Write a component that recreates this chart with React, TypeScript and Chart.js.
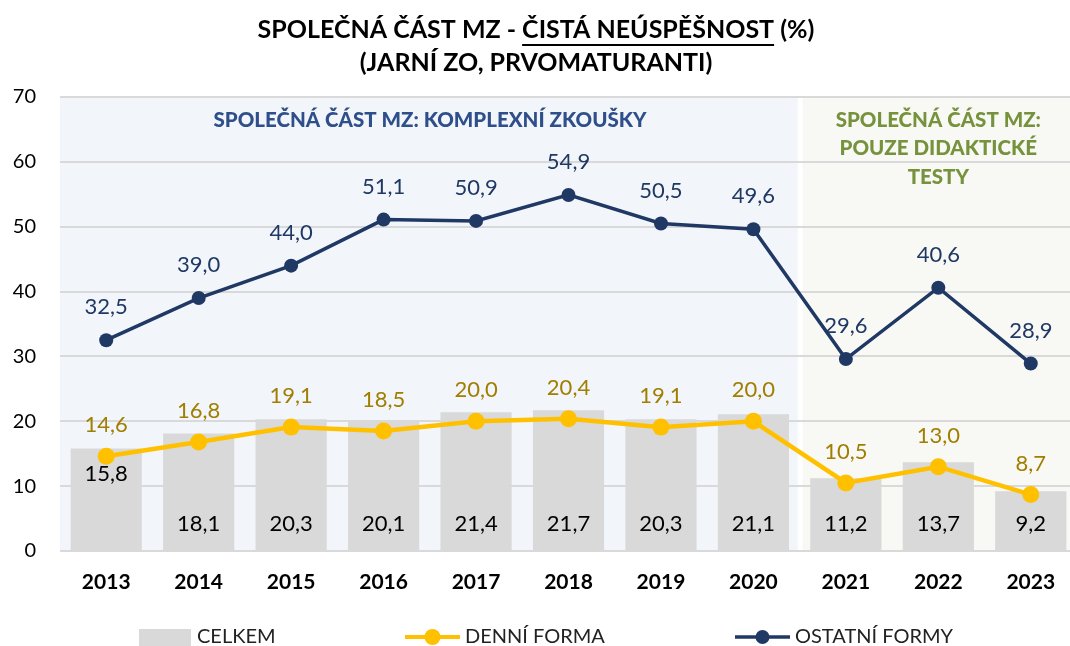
import React, { useEffect, useRef } from "react";
import { Chart, registerables } from "chart.js";

Chart.register(...registerables);

const years = ["2013", "2014", "2015", "2016", "2017", "2018", "2019", "2020", "2021", "2022", "2023"];
const celkem = [15.8, 18.1, 20.3, 20.1, 21.4, 21.7, 20.3, 21.1, 11.2, 13.7, 9.2];
const denniForma = [14.6, 16.8, 19.1, 18.5, 20.0, 20.4, 19.1, 20.0, 10.5, 13.0, 8.7];
const ostatniFormy = [32.5, 39.0, 44.0, 51.1, 50.9, 54.9, 50.5, 49.6, 29.6, 40.6, 28.9];
const yTicks = [0, 10, 20, 30, 40, 50, 60, 70];
const seriesNames = ["CELKEM", "DENNÍ FORMA", "OSTATNÍ FORMY"];
const titleParts = ["SPOLEČNÁ ČÁST MZ - ", "ČISTÁ NEÚSPĚŠNOST", " (%)"];
const subtitle = "(JARNÍ ZO, PRVOMATURANTI)";
const regionA = ["SPOLEČNÁ ČÁST MZ: KOMPLEXNÍ ZKOUŠKY"];
const regionB = ["SPOLEČNÁ ČÁST MZ:", "POUZE DIDAKTICKÉ", "TESTY"];
const regionSplitIndex = 8; // first year of second period (2021)

const FONT = "Lato, 'Open Sans', sans-serif";
const GRAY = "#D9D9D9";
const YELLOW = "#FFC000";
const NAVY = "#1F3864";
const BLUE_TXT = "#2F4F8A";
const GREEN_TXT = "#76923C";

const fmt = (v: number) => v.toFixed(1).replace(".", ",");

const customPlugin = {
  id: "custom",
  beforeDraw(chart: any) {
    const { ctx, chartArea, scales } = chart;
    const x = scales.x;
    const left = chartArea.left;
    const right = chartArea.right;
    const split = (x.getPixelForValue(regionSplitIndex - 1) + x.getPixelForValue(regionSplitIndex)) / 2;
    ctx.save();
    ctx.fillStyle = "#F2F5FA";
    ctx.fillRect(left, chartArea.top, split - 2 - left, chartArea.bottom - chartArea.top);
    ctx.fillStyle = "#F8F8F4";
    ctx.fillRect(split + 3, chartArea.top, right - split - 3, chartArea.bottom - chartArea.top);
    ctx.restore();
  },
  afterDraw(chart: any) {
    const { ctx, chartArea, scales } = chart;
    const x = scales.x;
    const y = scales.y;
    ctx.save();
    // Title
    ctx.fillStyle = "#000";
    ctx.textBaseline = "middle";
    ctx.font = `bold 25px ${FONT}`;
    const w = titleParts.map((t) => ctx.measureText(t).width);
    const total = w.reduce((a, b) => a + b, 0);
    let tx = 536 - total / 2;
    ctx.textAlign = "left";
    titleParts.forEach((t, i) => {
      ctx.fillText(t, tx, 30);
      if (i === 1) {
        ctx.fillRect(tx, 44, w[i], 2);
      }
      tx += w[i];
    });
    ctx.textAlign = "center";
    ctx.fillText(subtitle, 536, 63);

    // region labels
    const split = (x.getPixelForValue(regionSplitIndex - 1) + x.getPixelForValue(regionSplitIndex)) / 2;
    ctx.font = `900 20.5px ${FONT}`;
    ctx.fillStyle = BLUE_TXT;
    regionA.forEach((t, i) => ctx.fillText(t, 430, 120 + i * 28.5));
    ctx.fillStyle = GREEN_TXT;
    const cB = (split + chartArea.right) / 2;
    regionB.forEach((t, i) => ctx.fillText(t, cB, 120 + i * 28.5));

    // data labels
    ctx.font = `22px ${FONT}`;
    ctx.fillStyle = "#000";
    celkem.forEach((v, i) => {
      const px = x.getPixelForValue(i);
      const py = i === 0 ? y.getPixelForValue(v) + 25 : y.getPixelForValue(0) - 27;
      ctx.fillText(fmt(v), px, py);
    });
    ctx.fillStyle = "#A07E00";
    denniForma.forEach((v, i) => {
      ctx.fillText(fmt(v), x.getPixelForValue(i), y.getPixelForValue(v) - 31);
    });
    ctx.fillStyle = NAVY;
    ostatniFormy.forEach((v, i) => {
      ctx.fillText(fmt(v), x.getPixelForValue(i), y.getPixelForValue(v) - 33);
    });

    // legend
    const ly = 637;
    ctx.font = `20px ${FONT}`;
    ctx.textAlign = "left";
    ctx.fillStyle = GRAY;
    ctx.fillRect(139, 629, 52, 18);
    ctx.fillStyle = "#222";
    ctx.fillText(seriesNames[0], 197, ly);

    const drawLineKey = (x0: number, color: string, lw: number, r: number, label: string) => {
      ctx.strokeStyle = color;
      ctx.lineWidth = lw;
      ctx.beginPath();
      ctx.moveTo(x0, ly);
      ctx.lineTo(x0 + 55, ly);
      ctx.stroke();
      ctx.fillStyle = color;
      ctx.beginPath();
      ctx.arc(x0 + 27.5, ly, r, 0, Math.PI * 2);
      ctx.fill();
      ctx.fillStyle = "#222";
      ctx.fillText(label, x0 + 60, ly);
    };
    drawLineKey(405, YELLOW, 4, 8, seriesNames[1]);
    drawLineKey(735, NAVY, 3.5, 7, seriesNames[2]);
    ctx.restore();
  },
};

export default function App() {
  const ref = useRef<HTMLCanvasElement>(null);
  useEffect(() => {
    document.body.style.margin = "0";
    const chart = new Chart(ref.current as HTMLCanvasElement, {
      type: "bar",
      data: {
        labels: years,
        datasets: [
          {
            type: "line",
            label: seriesNames[2],
            data: ostatniFormy,
            borderColor: NAVY,
            backgroundColor: NAVY,
            borderWidth: 3.5,
            pointRadius: 7,
            pointBackgroundColor: NAVY,
            pointBorderWidth: 0,
            order: 1,
          },
          {
            type: "line",
            label: seriesNames[1],
            data: denniForma,
            borderColor: YELLOW,
            backgroundColor: YELLOW,
            borderWidth: 4.5,
            pointRadius: 8.5,
            pointBackgroundColor: YELLOW,
            pointBorderWidth: 0,
            order: 2,
          },
          {
            type: "bar",
            label: seriesNames[0],
            data: celkem,
            backgroundColor: GRAY,
            categoryPercentage: 1,
            barPercentage: 0.77,
            order: 3,
          },
        ],
      },
      options: {
        responsive: false,
        animation: false,
        devicePixelRatio: 1,
        layout: { autoPadding: false, padding: { top: 97, right: 0, bottom: 0, left: 0 } },
        plugins: { legend: { display: false }, title: { display: false }, tooltip: { enabled: false } },
        scales: {
          x: {
            grid: { display: false, drawTicks: false },
            border: { display: false },
            ticks: { color: "#000", font: { family: FONT, size: 21, weight: "bold" }, padding: 19 },
            afterFit: (s: any) => {
              s.height = 95;
              s.paddingLeft = 0;
              s.paddingRight = 0;
            },
          },
          y: {
            min: 0,
            max: 70,
            afterBuildTicks: (s: any) => {
              s.ticks = yTicks.map((v) => ({ value: v }));
            },
            grid: { color: GRAY, lineWidth: 2, drawTicks: false },
            border: { display: false },
            ticks: { color: "#000", font: { family: FONT, size: 20 }, padding: 24 },
            afterFit: (s: any) => {
              s.width = 60;
              s.paddingTop = 0;
              s.paddingBottom = 0;
            },
          },
        },
      },
      plugins: [customPlugin],
    } as any);
    return () => chart.destroy();
  }, []);
  return (
    <div style={{ position: "absolute", left: 0, top: 0, width: 1070, height: 646, overflow: "hidden" }}>
      <canvas ref={ref} width={1077} height={646} style={{ display: "block" }} />
    </div>
  );
}
